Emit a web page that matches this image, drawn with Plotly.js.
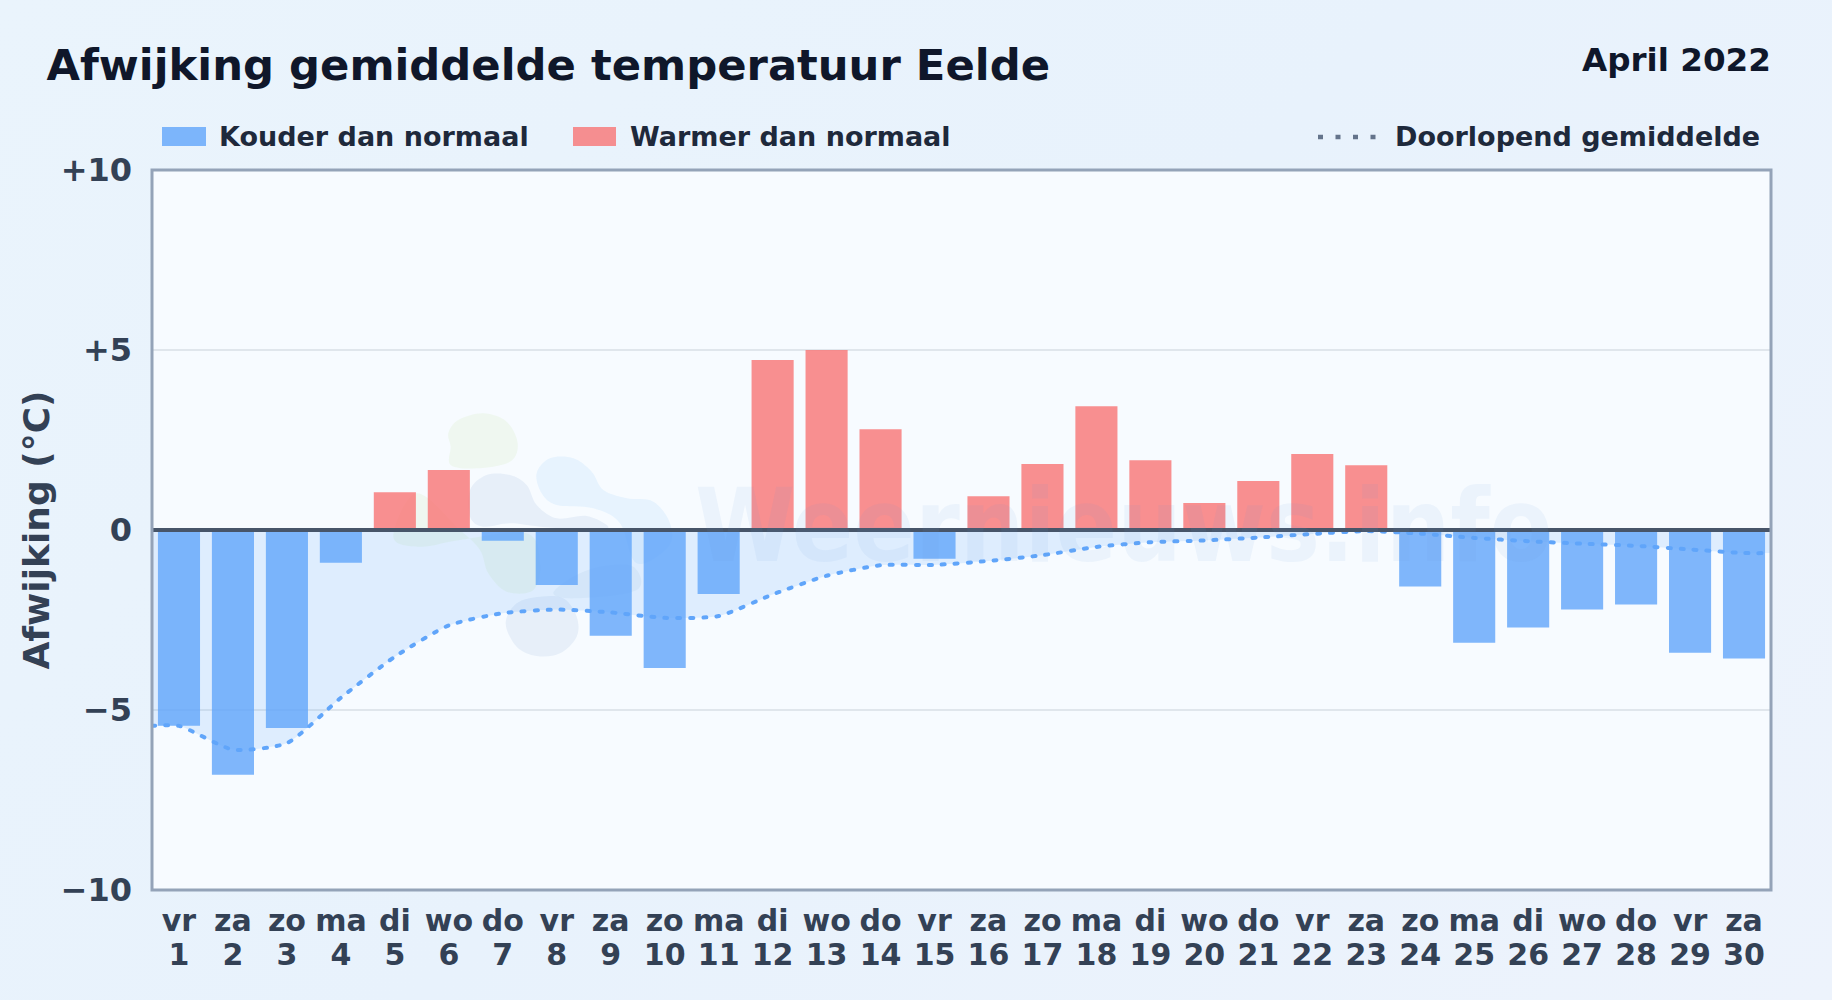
<!DOCTYPE html>
<html>
<head>
<meta charset="utf-8">
<script src="https://cdn.plot.ly/plotly-3.0.1.min.js"></script>
<style>
html,body{margin:0;padding:0;width:1832px;height:1000px;overflow:hidden;background:linear-gradient(135deg,#eaf4fc 0%,#e8f2fc 50%,#edf3fc 100%);}
#chart{width:1832px;height:1000px;}
.scatterlayer .js-line{stroke-linecap:round;}
</style>
</head>
<body>
<div id="chart"></div>
<script>
const weekdays = ["vr","za","zo","ma","di","wo","do","vr","za","zo","ma","di","wo","do","vr","za","zo","ma","di","wo","do","vr","za","zo","ma","di","wo","do","vr","za"];
const dayNumbers = [1,2,3,4,5,6,7,8,9,10,11,12,13,14,15,16,17,18,19,20,21,22,23,24,25,26,27,28,29,30];
const deviation = [-5.44,-6.8,-5.5,-0.91,1.05,1.67,-0.3,-1.53,-2.94,-3.83,-1.78,4.72,5.0,2.8,-0.8,0.94,1.83,3.44,1.94,0.75,1.36,2.11,1.8,-1.57,-3.13,-2.71,-2.21,-2.07,-3.41,-3.57];
const runningMean = [-5.44,-6.1,-5.92,-4.66,-3.52,-2.65,-2.31,-2.21,-2.29,-2.44,-2.39,-1.79,-1.27,-0.98,-0.97,-0.86,-0.7,-0.47,-0.34,-0.29,-0.21,-0.11,-0.03,-0.1,-0.22,-0.31,-0.38,-0.44,-0.54,-0.64];
const yTickValues = [10,5,0,-5,-10];
const yTickLabels = ["+10","+5","0","\u22125","\u221210"];
const titleText = "Afwijking gemiddelde temperatuur Eelde";
const periodText = "April 2022";
const coldName = "Kouder dan normaal";
const warmName = "Warmer dan normaal";
const meanName = "Doorlopend gemiddelde";
const yTitle = "Afwijking (\u00b0C)";
const watermark = "Weernieuws.info";

const W=1832,H=1000,L=152,R=1771,T=170,B=890;
const FONT='"DejaVu Sans",sans-serif';
const px=x=>(x-L)/(R-L), py=y=>1-(y-T)/(B-T);

// closed smooth outline for the faint logo behind the chart (picture pixels -> paper)
function blob(pts){
  const P=pts.map(p=>[px(360+p[0]/3),py(390+p[1]/3)]);
  const n=P.length;
  let d=`M${P[0][0]},${P[0][1]}`;
  for(let i=0;i<n;i++){
    const a=P[(i-1+n)%n],b=P[i],c=P[(i+1)%n],e=P[(i+2)%n];
    d+=`C${b[0]+(c[0]-a[0])/6},${b[1]+(c[1]-a[1])/6} ${c[0]-(e[0]-b[0])/6},${c[1]-(e[1]-b[1])/6} ${c[0]},${c[1]}`;
  }
  return d+'Z';
}
const logo=[
 {c:'rgba(190,225,150,0.14)',p:[[265,130],[295,90],[370,70],[440,95],[473,160],[450,215],[350,235],[272,225],[272,170]]},
 {c:'rgba(190,225,150,0.14)',p:[[100,440],[170,310],[300,420],[360,480],[385,550],[440,605],[520,600],[540,520],[500,430],[300,450],[180,470]]},
 {c:'rgba(148,178,215,0.16)',p:[[330,300],[380,255],[450,255],[500,285],[530,345],[590,385],[680,378],[745,410],[700,420],[540,410],[450,400],[370,410],[330,380]]},
 {c:'rgba(125,195,250,0.13)',p:[[530,250],[570,205],[640,205],[695,245],[730,300],[800,325],[880,335],[930,400],[925,470],[830,520],[780,400],[700,355],[590,345],[545,310]]},
 {c:'rgba(148,178,215,0.16)',p:[[437,700],[470,640],[540,620],[610,625],[650,680],[650,740],[600,790],[530,798],[470,770]]},
 {c:'rgba(148,178,215,0.12)',p:[[580,610],[640,560],[720,530],[820,530],[830,600],[650,625]]}
];

const xCommon={range:[0.5,30.5],fixedrange:true,showgrid:false,zeroline:false,showline:false,tickmode:'array',tickvals:dayNumbers,ticks:'outside',tickcolor:'rgba(0,0,0,0)',tickwidth:1};
const yCommon={range:[-10,10],fixedrange:true,zeroline:false,showline:false};

const traces=[
 {type:'scatter',mode:'lines',x:[0.5,...dayNumbers,30.5],y:[runningMean[0],...runningMean,runningMean[29]],line:{width:0,shape:'spline',smoothing:0.6},fill:'tozeroy',fillcolor:'rgba(96,165,250,0.16)',hoverinfo:'skip',showlegend:false,xaxis:'x',yaxis:'y'},
 {type:'bar',name:coldName,x:dayNumbers,y:deviation.map(v=>v<0?v:null),marker:{color:'rgba(96,165,250,0.8)',line:{width:0}},showlegend:false,xaxis:'x2',yaxis:'y2'},
 {type:'bar',name:warmName,x:dayNumbers,y:deviation.map(v=>v>=0?v:null),marker:{color:'rgba(248,113,113,0.78)',line:{width:0}},showlegend:false,xaxis:'x2',yaxis:'y2'},
 {type:'scatter',mode:'lines',name:meanName,x:[0.5,...dayNumbers,30.5],y:[runningMean[0],...runningMean,runningMean[29]],line:{color:'#60a5fa',width:4,dash:'3px,10px',shape:'spline',smoothing:0.6},showlegend:false,xaxis:'x2',yaxis:'y2'}
];

const shapes=[
 ...logo.map(b=>({type:'path',xref:'paper',yref:'paper',path:blob(b.p),fillcolor:b.c,line:{width:0},layer:'below'})),
 {type:'line',xref:'paper',yref:'y',x0:0,x1:1,y0:0,y1:0,line:{color:'#475569',width:4},layer:'above'},
 {type:'rect',xref:'paper',yref:'paper',x0:0,x1:1,y0:0,y1:1,line:{color:'#94a3b8',width:3},fillcolor:'rgba(0,0,0,0)',layer:'above'},
 {type:'rect',xref:'paper',yref:'paper',x0:px(162),x1:px(206),y0:py(127),y1:py(146),fillcolor:'rgba(96,165,250,0.8)',line:{width:0},layer:'above'},
 {type:'rect',xref:'paper',yref:'paper',x0:px(573),x1:px(616),y0:py(127),y1:py(146),fillcolor:'rgba(248,113,113,0.78)',line:{width:0},layer:'above'},
 {type:'line',xref:'paper',yref:'paper',x0:px(1318),x1:px(1376),y0:py(137),y1:py(137),line:{color:'#64748b',width:4.5,dash:'5px,12.5px'},layer:'above'}
];

const note=(text,x,y,size,color,anchor)=>({text:text,xref:'paper',yref:'paper',x:px(x),y:py(y),xanchor:anchor||'left',yanchor:'middle',showarrow:false,font:{family:FONT,size:size,color:color,weight:700},borderpad:0});

const annotations=[
 note(periodText,1772,59.5,32.6,'#0f172a','right'),
 note(coldName,218,137,27,'#1e293b'),
 note(warmName,629,137,27,'#1e293b'),
 note(meanName,1394,137,27,'#1e293b'),
 {text:watermark,xref:'paper',yref:'paper',x:px(1123),y:py(526),xanchor:'center',yanchor:'middle',showarrow:false,font:{family:'"DejaVu Sans Condensed","DejaVu Sans",sans-serif',size:101,color:'rgba(96,150,220,0.08)',weight:700}}
];

const layout={
 width:W,height:H,autosize:false,
 margin:{l:L,r:W-R,t:T,b:H-B,pad:0},
 paper_bgcolor:'rgba(0,0,0,0)',plot_bgcolor:'#f7fbff',
 barmode:'overlay',bargap:0.22,
 showlegend:false,
 font:{family:FONT},
 title:{text:titleText,x:46.5/W,xref:'container',xanchor:'left',y:1-64.5/H,yref:'container',yanchor:'middle',font:{family:FONT,size:43.3,color:'#0f172a',weight:700}},
 xaxis:{...xCommon,ticktext:weekdays,ticklen:4,tickfont:{family:FONT,size:30,color:'#334155',weight:700},anchor:'y',side:'bottom'},
 xaxis2:{...xCommon,ticktext:dayNumbers.map(String),ticklen:38,tickfont:{family:FONT,size:30,color:'#334155',weight:700},overlaying:'x',anchor:'y2',side:'bottom'},
 yaxis:{...yCommon,tickmode:'array',tickvals:yTickValues,ticktext:yTickLabels,ticks:'',ticklabelstandoff:19,showgrid:true,gridcolor:'#e0e6ec',gridwidth:2,tickfont:{family:FONT,size:32,color:'#334155',weight:700},title:{text:yTitle,standoff:0,font:{family:FONT,size:36,color:'#334155',weight:700}},automargin:false},
 yaxis2:{...yCommon,overlaying:'y',anchor:'x2',showticklabels:false,showgrid:false,ticks:''},
 shapes:shapes,annotations:annotations
};
Plotly.newPlot('chart',traces,layout,{staticPlot:true,displayModeBar:false});
</script>
</body>
</html>
